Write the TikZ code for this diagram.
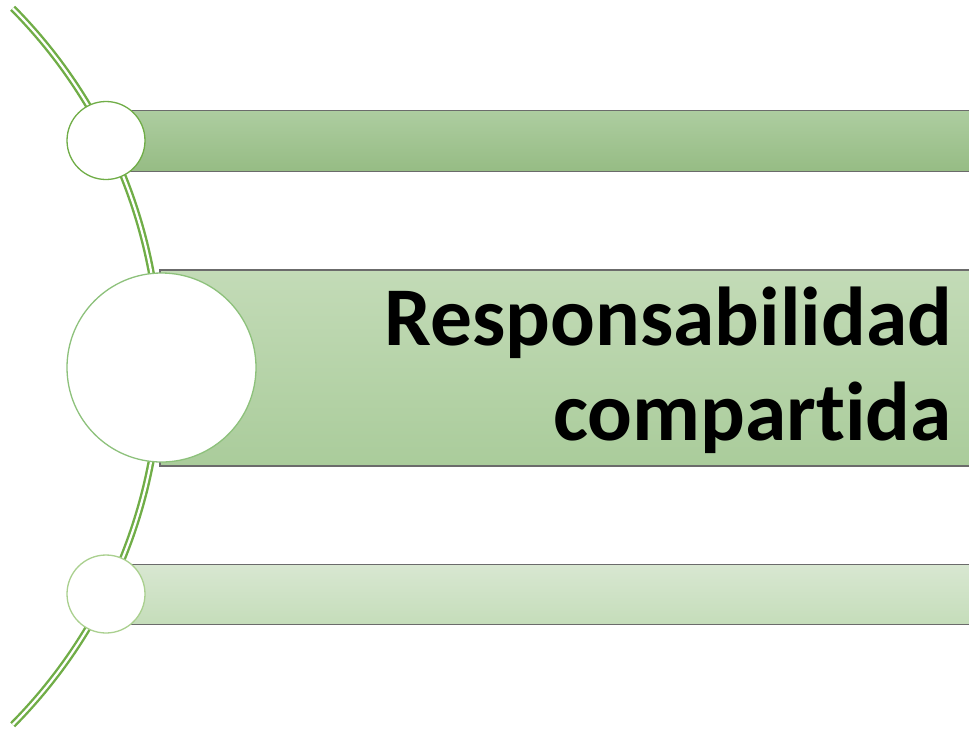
\documentclass[tikz,border=0pt]{standalone}
\usepackage{fontspec}
\setmainfont[Ligatures={NoCommon,NoRare,NoDiscretionary}]{Carlito}
\begin{document}
\begin{tikzpicture}[x=1pt,y=-1pt,
  arcline/.style={draw=arcgreen, line width=2.4pt, double=white, double distance=2.2pt},
  barbox/.style={draw=bargray, line width=1.4pt},
  ring/.style={circle, fill=white, line width=1.3pt, inner sep=0pt}]
\definecolor{arcgreen}{HTML}{70AD47}
\definecolor{bargray}{HTML}{6B6B6B}
\definecolor{topA}{HTML}{ADCDA0}
\definecolor{topB}{HTML}{96BC84}
\definecolor{midA}{HTML}{C3DBB7}
\definecolor{midB}{HTML}{AACC9B}
\definecolor{botA}{HTML}{D8E7D1}
\definecolor{botB}{HTML}{C5DDBA}
\definecolor{ringA}{HTML}{70AD47}
\definecolor{ringB}{HTML}{8DC17B}
\definecolor{ringC}{HTML}{AAD08F}
\useasboundingbox (0,0) rectangle (969,729);
% arc
\coordinate (arcc) at (-349.4,366.5);
\draw[arcline] (arcc) ++(-44.7:509.4) arc[start angle=-44.7, end angle=44.7, radius=509.4];
% bars
\draw[barbox, top color=topA, bottom color=topB] (106,110.5) rectangle (971,171.5);
\draw[barbox, top color=midA, bottom color=midB] (160,270) rectangle (971,466);
\draw[barbox, top color=botA, bottom color=botB] (106,564.5) rectangle (971,624.5);
% circles
\node[ring, draw=ringA, minimum size=78pt] (c1) at (106,140.5) {};
\node[ring, draw=ringB, minimum size=189pt] (c2) at (161.5,367.5) {};
\node[ring, draw=ringC, minimum size=78pt] (c3) at (106,594) {};
% text
\node[anchor=base east, inner sep=0pt, font=\fontsize{83.5}{95}\selectfont\bfseries] (t) at (952,345.5)
  {\begin{tabular}[t]{@{}r@{}}Responsabilidad\\compartida\end{tabular}};
\end{tikzpicture}
\end{document}
